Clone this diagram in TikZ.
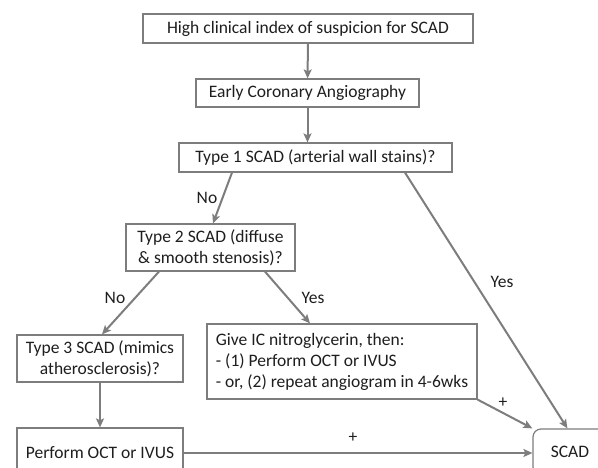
\documentclass[tikz,border=0pt]{standalone}
\definecolor{SCADgray}{RGB}{125,125,125}
\definecolor{SCADtext}{RGB}{30,30,30}
\usepackage{fontspec}
\setmainfont{Carlito}
\usepackage{tikz}
\usetikzlibrary{arrows.meta,positioning}

\tikzset{
  stepbox/.style={draw=SCADgray, line width=1.2pt, fill=white, text=SCADtext,
    font=\fontsize{17.5}{21}\selectfont, inner sep=0pt, align=center},
  flow/.style={draw=SCADgray, line width=2pt, -{Stealth[length=9pt,width=8pt,inset=2pt]}},
  lbl/.style={text=SCADtext, font=\fontsize{17.5}{21}\selectfont, inner sep=0pt},
}

\begin{document}
\begin{tikzpicture}[x=1pt,y=-1pt]
    \useasboundingbox (0,0) rectangle (598,468);
    \clip (0,0) rectangle (598,468);
    \node[stepbox, minimum width=330pt, minimum height=29pt] (suspect) at (308,28.5) {High clinical index of suspicion for SCAD};
    \node[stepbox, minimum width=223pt, minimum height=28pt] (angio) at (307.5,93) {Early Coronary Angiography};
    \node[stepbox, minimum width=273pt, minimum height=29pt] (typeone) at (315.5,157.5) {Type 1 SCAD (arterial wall stains)?};
    \node[stepbox, minimum width=169pt, minimum height=47pt] (typetwo) at (210.5,247.5) {Type 2 SCAD (diffuse\\ \& smooth stenosis)?};
    \node[stepbox, minimum width=166pt, minimum height=47pt] (typethree) at (100,358.5) {Type 3 SCAD (mimics\\ atherosclerosis)?};
    \node[stepbox, minimum width=270pt, minimum height=75pt, align=left] (nitro) at (342,361.5) {Give IC nitroglycerin, then:\\ - (1) Perform OCT or IVUS\\ - or, (2) repeat angiogram in 4-6wks};
    \node[stepbox, minimum width=166pt, minimum height=50pt] (octivus) at (100,453) {Perform OCT or IVUS};
    \node[stepbox, rounded corners=8pt, minimum width=74pt, minimum height=46pt] (scad) at (570,452) {SCAD};

    \draw[flow] (suspect) -- (angio);
    \draw[flow] (angio.south) -- (angio.south |- typeone.north);
    \draw[flow] ([xshift=-83.5pt]typeone.south) -- ([xshift=2.5pt]typetwo.north);
    \draw[flow] ([xshift=89.5pt]typeone.south) -- ([xshift=35pt]scad.north west);
    \draw[flow] ([xshift=-51.5pt]typetwo.south) -- ([xshift=2pt]typethree.north);
    \draw[flow] ([xshift=54.5pt]typetwo.south) -- ([xshift=-32pt]nitro.north);
    \draw[flow] (typethree) -- (octivus);
    \draw[flow] (octivus.east) -- (octivus.east -| scad.west);
    \draw[flow] (nitro.south east) -- (scad.north west);

    \node[lbl] (noone) at (207,198) {No};
    \node[lbl] (notwo) at (115,298) {No};
    \node[lbl] (yesone) at (502,282) {Yes};
    \node[lbl] (yestwo) at (313,298) {Yes};
    \node[lbl] (plusone) at (503,403) {+};
    \node[lbl] (plustwo) at (353,438) {+};
\end{tikzpicture}
\end{document}
